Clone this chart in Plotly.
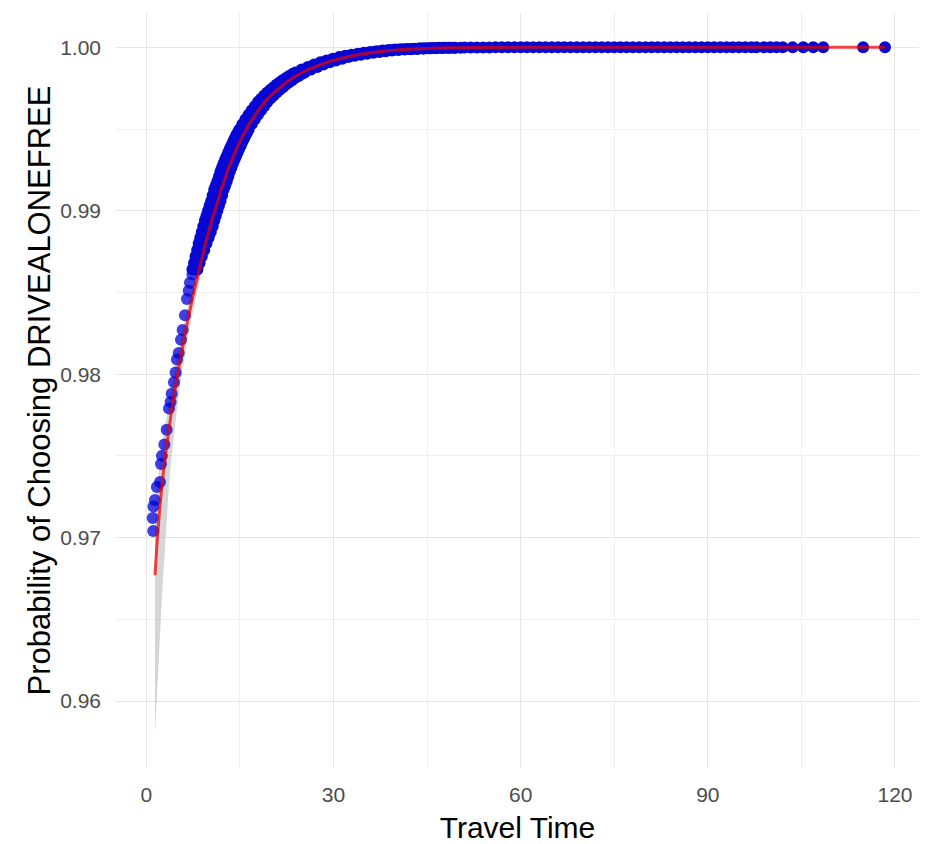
import plotly.graph_objects as go

# ---- smooth (fitted) curve ----
smooth_x = [1.4, 1.7, 2.0, 2.5, 3.0, 3.5, 4.0, 4.5, 5.0, 5.5, 6.0, 6.5, 7.0, 7.5, 8.0, 8.5,
            9.0, 9.5, 10.0, 10.5, 11.0, 11.5, 12.0, 12.5, 13.0, 13.5, 14.0, 14.5, 15.0,
            15.5, 16.0, 16.5, 17.0, 17.5, 18.0, 18.5, 19.0, 19.5, 20, 21, 22, 23, 24, 25,
            26, 27, 28, 29, 30, 31, 32, 33, 34, 35, 36, 37, 38, 39, 40, 42, 44, 46, 48, 50,
            55, 60, 70, 80, 90, 100, 110, 118.4]
smooth_p = [0.9677, 0.9695, 0.9710, 0.9731, 0.9748, 0.9762, 0.9776, 0.9788, 0.9799, 0.9810,
            0.9820, 0.9830, 0.9839, 0.9848, 0.9856, 0.9864, 0.9872, 0.9880, 0.9887, 0.9894,
            0.9900, 0.9906, 0.9913, 0.9918, 0.9924, 0.9929, 0.99335, 0.9938, 0.9942, 0.9946,
            0.99495, 0.9953, 0.9956, 0.99588, 0.99615, 0.9964, 0.99665, 0.99686, 0.99705,
            0.9974, 0.99772, 0.9980, 0.99825, 0.99846, 0.99864, 0.9988, 0.99895, 0.99908,
            0.9992, 0.9993, 0.9994, 0.99948, 0.99955, 0.99961, 0.99967, 0.99972, 0.99976,
            0.9998, 0.99983, 0.99988, 0.99992, 0.99995, 0.99997, 0.99998, 0.99999, 1.0,
            1.0, 1.0, 1.0, 1.0, 1.0, 1.0]
# confidence band half-widths (below / above the fitted line)
se_below = [0.0097, 0.0093, 0.0085, 0.0068, 0.0052, 0.0038, 0.0028, 0.0022, 0.0018, 0.0015,
            0.0013, 0.00115, 0.0010, 0.0009, 0.0008, 0.00072, 0.00066, 0.0006, 0.00056,
            0.00052, 0.00049, 0.00046, 0.00044, 0.00041, 0.00039, 0.00037, 0.00035,
            0.00033, 0.00032, 0.0003, 0.00029, 0.00028, 0.00026, 0.00025, 0.00024, 0.00023,
            0.00022, 0.00021, 0.0002, 0.00018, 0.00016, 0.00015, 0.00014, 0.00013, 0.00012,
            0.00011, 0.0001, 0.00009, 0.00008, 0.00007, 0.00007, 0.00006, 0.00006, 0.00005,
            0.00005, 0.00004, 0.00004, 0.00003, 0.00003, 0.00002, 0.00002, 0.00002, 0.00002,
            0.00002, 0.00001, 0.00001, 0.00001, 0.00001, 0.00001, 0.00001, 0.00001, 0.00001]
se_above = [0.0040, 0.0035, 0.0030, 0.0025, 0.0020, 0.0017, 0.0015, 0.0013, 0.0012, 0.0011,
            0.0010, 0.0009, 0.0008, 0.0007, 0.0006, 0.00055, 0.0005, 0.00045, 0.00042,
            0.0004, 0.00038, 0.00036, 0.00034, 0.00032, 0.0003, 0.00029, 0.00028,
            0.00027, 0.00026, 0.00025, 0.00024, 0.00023, 0.00022, 0.00021, 0.0002, 0.00019,
            0.00018, 0.00017, 0.00016, 0.00015, 0.00014, 0.00013, 0.00012, 0.00011, 0.0001,
            0.00009, 0.00008, 0.00007, 0.00006, 0.00006, 0.00005, 0.00005, 0.00004, 0.00004,
            0.00003, 0.00003, 0.00003, 0.00002, 0.00002, 0.00002, 0.00001, 0.00001, 0.00001,
            0.00001, 0.00001, 0.00001, 0.00001, 0.00001, 0.00001, 0.00001, 0.00001, 0.00001]

# ---- observed points read from the picture ----
# sparse points at short travel times
pts_low_x = [1.03, 1.12, 1.15, 1.39, 1.7, 2.2, 2.36, 2.5, 2.9, 3.27, 3.64, 3.9, 4.07, 4.44,
             4.7, 4.92, 5.2, 5.56, 5.83, 6.2, 6.52, 6.8, 7.0, 7.4, 7.8, 8.2]
pts_low_p = [0.9712, 0.9704, 0.9719, 0.9723, 0.9731, 0.9734, 0.9745, 0.9750, 0.9757, 0.9766,
             0.9779, 0.9783, 0.9788, 0.9795, 0.9801, 0.9809, 0.9813, 0.9821, 0.9827, 0.9836,
             0.9846, 0.9851, 0.9856, 0.9861, 0.9868, 0.9872]

# dense cloud: probability levels, each observed at three travel times (upper-left edge,
# middle and lower-right edge of the band)
pts_band_p = [0.9864, 0.9868, 0.9872, 0.9876, 0.9880, 0.98835, 0.9887, 0.98905, 0.9894,
              0.9897, 0.9900, 0.9903, 0.9906, 0.99095, 0.9913, 0.99155, 0.9918, 0.9921,
              0.9924, 0.99265, 0.9929, 0.99313, 0.99335, 0.99358, 0.9938, 0.9940, 0.9942,
              0.9944, 0.9946, 0.99478, 0.99495,
              0.9953, 0.9956, 0.99588, 0.99615, 0.9964, 0.99665, 0.99686, 0.99705,
              0.99723, 0.9974, 0.99756, 0.99772, 0.99786, 0.9980, 0.99813, 0.99825, 0.99836,
              0.99846,
              0.99864, 0.9988, 0.99895, 0.99908, 0.9992, 0.9993, 0.9994, 0.99948, 0.99955,
              0.99961, 0.99967, 0.99972, 0.99976, 0.9998, 0.99983, 0.99986, 0.99988, 0.9999,
              0.99992, 0.99994, 0.99995, 0.99996, 0.99997, 0.99998, 0.99998]
pts_band_x_upper = [7.4, 7.65, 7.9, 8.15, 8.4, 8.65, 8.9, 9.15, 9.4, 9.65, 9.9, 10.15, 10.4,
                    10.65, 10.9, 11.15, 11.4, 11.65, 11.9, 12.15, 12.4, 12.65, 12.9, 13.15,
                    13.4, 13.65, 13.9, 14.15, 14.4, 14.65, 14.9,
                    15.4, 15.9, 16.4, 16.9, 17.4, 17.9, 18.4, 18.9,
                    19.4, 19.9, 20.4, 20.9, 21.4, 21.9, 22.4, 22.9, 23.4, 23.9,
                    24.9, 25.9, 26.9, 27.9, 28.9, 29.9, 30.9, 31.9, 32.9, 33.9, 34.9, 35.9,
                    36.9, 37.9, 38.9, 39.9, 40.9, 41.9, 42.9, 43.9, 44.9, 45.9, 46.9, 47.9, 48.9]
pts_band_x_mid = [7.8, 8.1, 8.4, 8.7, 9.0, 9.25, 9.5, 9.75, 10.0, 10.25, 10.5, 10.75, 11.0,
                  11.25, 11.5, 11.75, 12.0, 12.25, 12.5, 12.75, 13.0, 13.25, 13.5, 13.75,
                  14.0, 14.25, 14.5, 14.75, 15.0, 15.25, 15.5,
                  16.0, 16.5, 17.0, 17.5, 18.0, 18.5, 19.0, 19.5,
                  20.0, 20.5, 21.0, 21.5, 22.0, 22.5, 23.0, 23.5, 24.0, 24.5,
                  25.5, 26.5, 27.5, 28.5, 29.5, 30.5, 31.5, 32.5, 33.5, 34.5, 35.5, 36.5,
                  37.5, 38.5, 39.5, 40.5, 41.5, 42.5, 43.5, 44.5, 45.5, 46.5, 47.5, 48.5, 49.5]
pts_band_x_lower = [8.2, 8.55, 8.9, 9.3, 9.65, 10.0, 10.35, 10.65, 10.9, 11.15, 11.4, 11.65,
                    11.9, 12.15, 12.4, 12.65, 12.9, 13.15, 13.4, 13.65, 13.9, 14.15, 14.4,
                    14.65, 14.9, 15.15, 15.4, 15.65, 15.9, 16.15, 16.4,
                    16.9, 17.4, 17.9, 18.4, 18.9, 19.4, 19.9, 20.4,
                    20.9, 21.4, 21.9, 22.4, 22.9, 23.4, 23.9, 24.4, 24.9, 25.4,
                    26.4, 27.4, 28.4, 29.4, 30.4, 31.4, 32.4, 33.4, 34.4, 35.4, 36.4, 37.4,
                    38.4, 39.4, 40.4, 41.4, 42.4, 43.4, 44.4, 45.4, 46.4, 47.4, 48.4, 49.4, 50.4]

# long travel times (probability saturated)
pts_flat_x = [51, 52, 53, 54, 55, 56, 57, 58, 59, 60, 61, 62, 63, 64, 65, 66, 67, 68, 69, 70,
              71, 72, 73, 74, 75, 76, 77, 78, 79, 80, 81, 82, 83, 84, 85, 86, 87, 88, 89, 90,
              91, 92, 93, 94, 95, 96, 97, 97.8, 99, 100, 101, 102,
              103.6, 105.3, 106.9, 108.5, 114.9, 118.4]
pts_flat_p = [0.99999, 0.99999, 0.99999, 0.99999, 0.99999, 1.0, 1.0, 1.0, 1.0, 1.0,
              1.0, 1.0, 1.0, 1.0, 1.0, 1.0, 1.0, 1.0, 1.0, 1.0,
              1.0, 1.0, 1.0, 1.0, 1.0, 1.0, 1.0, 1.0, 1.0, 1.0,
              1.0, 1.0, 1.0, 1.0, 1.0, 1.0, 1.0, 1.0, 1.0, 1.0,
              1.0, 1.0, 1.0, 1.0, 1.0, 1.0, 1.0, 1.0, 1.0, 1.0, 1.0, 1.0,
              1.0, 1.0, 1.0, 1.0, 1.0, 1.0]

x_ticks = [0, 30, 60, 90, 120]
y_ticks = [0.96, 0.97, 0.98, 0.99, 1.00]
x_title = "Travel Time"
y_title = "Probability of Choosing DRIVEALONEFREE"

# assemble dense observations
dense_x = pts_band_x_upper + pts_band_x_mid + pts_band_x_lower + pts_flat_x
dense_p = pts_band_p + pts_band_p + pts_band_p + pts_flat_p
assert len(dense_x) == len(dense_p), (len(dense_x), len(dense_p))
assert len(pts_low_x) == len(pts_low_p)

rib_hi = [p + s for p, s in zip(smooth_p, se_above)]
rib_lo = [p - s for p, s in zip(smooth_p, se_below)]

FONT = "Liberation Sans, Arial, sans-serif"

fig = go.Figure()
fig.add_trace(go.Scatter(
    x=smooth_x + smooth_x[::-1], y=rib_hi + rib_lo[::-1],
    fill="toself", fillcolor="rgba(153,153,153,0.4)", line=dict(width=0),
    mode="lines", hoverinfo="skip", showlegend=False))
fig.add_trace(go.Scatter(
    x=pts_low_x, y=pts_low_p, mode="markers",
    marker=dict(size=12, color="rgba(0,0,215,0.75)", line=dict(width=0)),
    showlegend=False))
fig.add_trace(go.Scatter(
    x=dense_x, y=dense_p, mode="markers",
    marker=dict(size=12, color="rgb(8,8,212)", line=dict(width=0)),
    showlegend=False))
fig.add_trace(go.Scatter(
    x=smooth_x, y=smooth_p, mode="lines",
    line=dict(color="rgba(235,0,0,0.72)", width=3, shape="spline"),
    showlegend=False))

fig.update_layout(
    width=938, height=844,
    margin=dict(l=116, r=19, t=13, b=76),
    plot_bgcolor="white", paper_bgcolor="white",
    font=dict(family=FONT),
    xaxis=dict(
        range=[-4.85, 123.85], tickvals=x_ticks, ticktext=[str(v) for v in x_ticks],
        showgrid=True, gridcolor="#E6E6E6", gridwidth=1, zeroline=False,
        showline=False, ticks="", ticklabelstandoff=12, automargin=False,
        tickfont=dict(size=21, color="#4D4D4D", family=FONT),
        minor=dict(tickvals=[15, 45, 75, 105], showgrid=True, gridcolor="#F0F0F0", gridwidth=1),
        title=dict(text=x_title, font=dict(size=30, color="black", family=FONT), standoff=13),
    ),
    yaxis=dict(
        range=[0.9559, 1.0021], tickvals=y_ticks, ticktext=["%.2f" % v for v in y_ticks],
        showgrid=True, gridcolor="#E6E6E6", gridwidth=1, zeroline=False,
        showline=False, ticks="", ticklabelstandoff=14, automargin=False,
        tickfont=dict(size=21, color="#4D4D4D", family=FONT),
        minor=dict(tickvals=[0.965, 0.975, 0.985, 0.995], showgrid=True, gridcolor="#F0F0F0", gridwidth=1),
        title=dict(text=y_title, font=dict(size=31, color="black", family=FONT), standoff=0),
    ),
)

fig.write_html("out.html")
